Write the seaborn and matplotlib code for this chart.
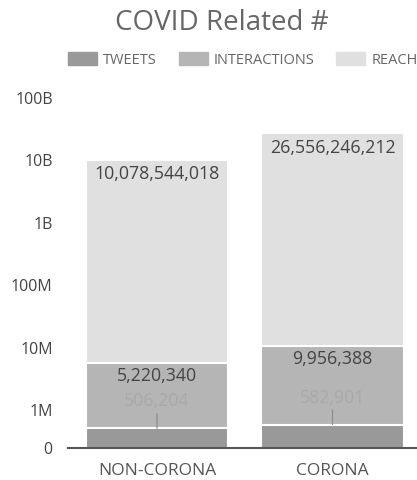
import numpy as np
import pandas as pd
import matplotlib
matplotlib.use("Agg")
import matplotlib.pyplot as plt
import matplotlib.ticker as mticker
import seaborn as sns

# datos del grafico
categorias = ["NON-CORONA", "CORONA"]
tweets = [506204, 582901]
interactions = [5220340, 9956388]
reach = [10078544018, 26556246212]
series = ["TWEETS", "INTERACTIONS", "REACH"]
colores = ["#999999", "#b5b5b5", "#e0e0e0"]
ticks = [10**5.392, 1e6, 1e7, 1e8, 1e9, 1e10, 1e11]
tick_labels = ["0", "1M", "10M", "100M", "1B", "10B", "100B"]

sns.set_theme(style="white")
plt.rcParams["font.family"] = ["Open Sans", "DejaVu Sans"]

df = pd.DataFrame({"cat": categorias, "TWEETS": tweets,
                   "INTERACTIONS": interactions, "REACH": reach})
df["tope_tw"] = df["TWEETS"]
df["tope_int"] = df["TWEETS"] + df["INTERACTIONS"]
df["tope_reach"] = df["tope_int"] + df["REACH"]

fig = plt.figure(figsize=(4.17, 4.8), dpi=100)
ax = fig.add_axes([68 / 417, 32 / 480, 353.5 / 417, 350.5 / 480])
ax.set_yscale("log")

# barras apiladas: se dibuja de la mas alta a la mas baja
for col, color in zip(["tope_reach", "tope_int", "tope_tw"], colores[::-1]):
    sns.barplot(data=df, x="cat", y=col, color=color, width=0.81,
                saturation=1, edgecolor="white", linewidth=1.5, ax=ax)

ax.set_ylim(ticks[0], 1e11)
ax.set_xlim(-0.507, 1.507)
ax.yaxis.set_major_locator(mticker.FixedLocator(ticks))
ax.yaxis.set_major_formatter(mticker.FixedFormatter(tick_labels))
ax.yaxis.set_minor_locator(mticker.NullLocator())
ax.tick_params(axis="y", length=0, pad=11, labelsize=11.5, labelcolor="#444444")
ax.tick_params(axis="x", length=0, pad=11, labelsize=12.5, labelcolor="#555555")
ax.set_xlabel("")
ax.set_ylabel("")
for lado in ["top", "right", "left"]:
    ax.spines[lado].set_visible(False)
ax.spines["bottom"].set_color("#555555")
ax.spines["bottom"].set_linewidth(1.5)

# etiquetas de valores
for i, fila in df.iterrows():
    ax.annotate(f"{fila['REACH']:,}", (i, fila["tope_reach"]), xytext=(0, -4),
                textcoords="offset points", ha="center", va="top",
                fontsize=12.8, color="#444444")
    ax.annotate(f"{fila['INTERACTIONS']:,}", (i, fila["tope_int"]), xytext=(0, -3),
                textcoords="offset points", ha="center", va="top",
                fontsize=12.8, color="#444444")
    ax.annotate(f"{fila['TWEETS']:,}", (i, fila["tope_tw"]), xytext=(0, 13),
                textcoords="offset points", ha="center", va="bottom",
                fontsize=12.8, color="#a9a9a9",
                arrowprops=dict(arrowstyle="-", color="#888888", lw=0.8,
                                shrinkA=0, shrinkB=0))

fig.suptitle("COVID Related #", x=222 / 417, y=1 - 9 / 480, va="top",
             fontsize=20, color="#666666")

handles = [plt.Rectangle((0, 0), 1, 1, color=c) for c in colores]
fig.legend(handles, series, loc="center left", bbox_to_anchor=(68 / 417, 1 - 60 / 480),
           ncol=3, frameon=False, fontsize=10.5, labelcolor="#666666",
           borderpad=0, borderaxespad=0,
           handlelength=2.0, handleheight=0.9, handletextpad=0.4, columnspacing=1.5)

fig.savefig("out.png", dpi=100)
